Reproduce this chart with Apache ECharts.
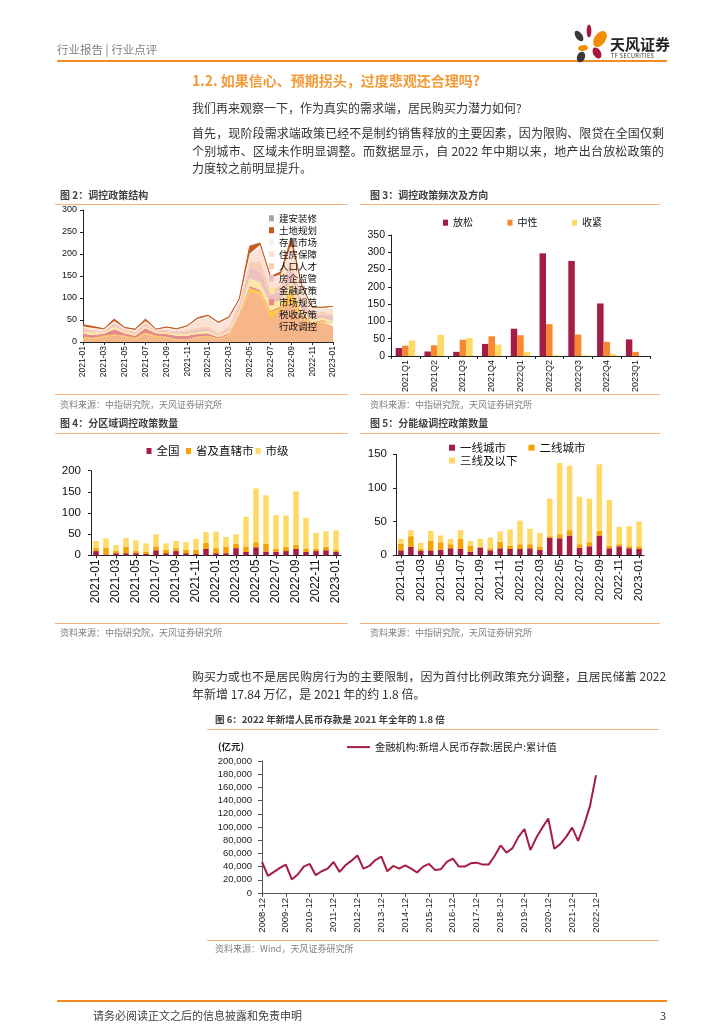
<!DOCTYPE html>
<html><head><meta charset="utf-8">
<script src="https://cdn.jsdelivr.net/npm/echarts@6/dist/echarts.min.js"></script>
<style>
html,body{margin:0;padding:0;background:#fff;}
body{width:724px;height:1024px;position:relative;overflow:hidden;font-family:"Noto Sans CJK SC","Liberation Sans",sans-serif;}
.t{position:absolute;white-space:nowrap;line-height:1;color:#333;}
.j{position:absolute;line-height:1;color:#333;font-size:12px;text-align:justify;text-align-last:justify;}
.hl{position:absolute;height:0;border-top:1px solid #F5B27C;}
.ct{position:absolute;white-space:nowrap;line-height:1;color:#404040;font-weight:bold;font-size:10px;}
.src{position:absolute;white-space:nowrap;line-height:1;color:#7f7f7f;font-size:9px;}
#c{position:absolute;left:0;top:0;width:724px;height:1024px;}
</style></head>
<body>
<div id="c"></div>
<!-- header -->
<div class="t" style="left:57px;top:44px;font-size:11.5px;color:#808080;">行业报告 | 行业点评</div>
<div style="position:absolute;left:57px;top:60px;width:610px;height:2px;background:#F08C21;"></div>
<svg style="position:absolute;left:570px;top:22px;" width="40" height="42" viewBox="0 0 40 42">
 <ellipse cx="19" cy="9" rx="2.4" ry="6.5" fill="#A5173B"/>
 <ellipse cx="30" cy="17" rx="5.5" ry="9" fill="#F28C00" transform="rotate(35 30 17)"/>
 <ellipse cx="9" cy="14" rx="3.3" ry="6" fill="#3A3A3A" transform="rotate(-35 9 14)"/>
 <ellipse cx="13" cy="26" rx="5" ry="2.8" fill="#F28C00" transform="rotate(-10 13 26)"/>
 <ellipse cx="27" cy="31" rx="3.8" ry="6" fill="#A5173B" transform="rotate(-30 27 31)"/>
 <ellipse cx="11" cy="35" rx="4" ry="5.5" fill="#3A3A3A" transform="rotate(20 11 35)"/>
</svg>
<div class="t" style="left:610px;top:36px;font-size:15px;font-weight:bold;color:#222;">天风证券</div>
<div class="t" style="left:611px;top:54px;font-size:5.5px;color:#333;letter-spacing:0.4px;">TF SECURITIES</div>

<!-- text -->
<div class="t" style="left:192px;top:73px;font-size:14px;font-weight:bold;color:#F39A38;">1.2. 如果信心、预期拐头，过度悲观还合理吗?</div>
<div class="t" style="left:192px;top:102px;font-size:12px;">我们再来观察一下，作为真实的需求端，居民购买力潜力如何?</div>
<div class="j" style="left:192px;top:127px;width:472px;">首先，现阶段需求端政策已经不是制约销售释放的主要因素，因为限购、限贷在全国仅剩</div>
<div class="j" style="left:192px;top:145px;width:472px;">个别城市、区域未作明显调整。而数据显示，自 2022 年中期以来，地产出台放松政策的</div>
<div class="t" style="left:192px;top:162px;font-size:12px;">力度较之前明显提升。</div>

<div class="j" style="left:192px;top:670px;width:474px;font-size:11.9px;">购买力或也不是居民购房行为的主要限制，因为首付比例政策充分调整，且居民储蓄 2022</div>
<div class="t" style="left:192px;top:688px;font-size:12px;">年新增 17.84 万亿，是 2021 年的约 1.8 倍。</div>

<!-- chart frames -->
<div class="ct" style="left:60px;top:190px;">图 2：调控政策结构</div>
<div class="ct" style="left:370px;top:190px;">图 3：调控政策频次及方向</div>
<div class="hl" style="left:55px;top:204px;width:293px;"></div>
<div class="hl" style="left:360px;top:204px;width:300px;"></div>
<div class="hl" style="left:55px;top:394px;width:293px;"></div>
<div class="hl" style="left:360px;top:394px;width:300px;"></div>
<div class="src" style="left:60px;top:400px;">资料来源：中指研究院，天风证券研究所</div>
<div class="src" style="left:370px;top:400px;">资料来源：中指研究院，天风证券研究所</div>

<div class="ct" style="left:60px;top:418px;">图 4：分区域调控政策数量</div>
<div class="ct" style="left:370px;top:418px;">图 5：分能级调控政策数量</div>
<div class="hl" style="left:55px;top:433px;width:293px;"></div>
<div class="hl" style="left:360px;top:433px;width:300px;"></div>
<div class="hl" style="left:55px;top:623px;width:293px;"></div>
<div class="hl" style="left:360px;top:623px;width:300px;"></div>
<div class="src" style="left:60px;top:628px;">资料来源：中指研究院，天风证券研究所</div>
<div class="src" style="left:370px;top:628px;">资料来源：中指研究院，天风证券研究所</div>

<div class="ct" style="left:215px;top:715px;font-size:9.5px;">图 6：2022 年新增人民币存款是 2021 年全年的 1.8 倍</div>
<div class="hl" style="left:207px;top:729px;width:452px;"></div>
<div class="t" style="left:218px;top:742px;font-size:9.5px;font-weight:bold;color:#222;">(亿元)</div>
<div class="hl" style="left:207px;top:940px;width:452px;"></div>
<div class="src" style="left:215px;top:944px;">资料来源：Wind，天风证券研究所</div>

<!-- footer -->
<div style="position:absolute;left:57px;top:1000px;width:610px;height:2px;background:#F08C21;"></div>
<div class="t" style="left:93px;top:1010px;font-size:11px;color:#404040;">请务必阅读正文之后的信息披露和免责申明</div>
<div class="t" style="left:660px;top:1010px;font-size:11px;color:#404040;">3</div>

<script>
// ===== Categories =====
const months = ['2021-01','2021-02','2021-03','2021-04','2021-05','2021-06','2021-07','2021-08','2021-09','2021-10','2021-11','2021-12','2022-01','2022-02','2022-03','2022-04','2022-05','2022-06','2022-07','2022-08','2022-09','2022-10','2022-11','2022-12','2023-01'];
const quarters = ['2021Q1','2021Q2','2021Q3','2021Q4','2022Q1','2022Q2','2022Q3','2022Q4','2023Q1'];
const depositDates = ['2008-12'];
for (let y = 2009; y <= 2022; y++) { ['03','06','09','12'].forEach(m => depositDates.push(y + '-' + m)); }

// ===== Fig 2: policy structure (stacked area) =====
const xingzheng = [10,7,12,15,12,7,18,12,10,5,5,10,12,7,15,60,115,108,58,72,92,55,40,45,36];
const shuishou  = [2,2,2,2,2,2,3,2,2,1,1,2,2,1,2,3,8,6,10,6,25,3,3,3,3];
const shichang  = [7,7,5,12,6,5,10,6,6,8,8,6,6,3,3,3,4,4,3,3,5,3,2,2,2];
const jinrong   = [5,5,3,6,4,4,5,3,4,5,5,5,5,3,5,8,18,18,16,15,20,12,6,5,6];
const fangqi    = [4,3,2,5,3,3,4,2,3,3,4,5,5,3,5,8,22,26,20,20,25,15,9,8,9];
const renkou    = [3,3,2,3,2,3,3,1,3,3,4,5,6,4,6,7,15,22,12,13,20,12,6,6,7];
const zhufang   = [3,3,2,3,2,2,3,2,3,2,7,17,20,20,16,4,14,32,23,21,31,23,9,6,14];
const cunliang  = [2,2,1,2,1,2,2,1,2,2,2,3,3,2,3,3,5,5,4,4,5,4,3,3,3];
const tudi      = [3,3,1,4,1,1,4,0,1,1,1,2,2,2,2,2,16,3,3,5,14,2,1,1,1];
const jianan    = [1,1,0,1,1,1,1,1,1,1,1,1,1,1,1,1,3,2,1,1,2,1,1,1,1];

// ===== Fig 3: frequency & direction =====
const fangsong  = [23,13,12,35,79,297,275,152,48];
const zhongxing = [30,31,47,57,60,92,62,41,12];
const shoujin   = [45,61,52,33,12,2,2,6,0];

// ===== Fig 4: by region =====
const quanguo = [10,2,5,5,5,3,12,5,10,5,3,15,5,5,17,8,19,9,8,10,15,8,10,12,8];
const shengji = [7,16,5,15,5,5,9,8,7,8,10,15,12,15,10,13,12,18,7,10,10,7,5,8,5];
const shiji   = [17,22,14,21,25,20,29,15,17,18,26,25,39,23,23,70,127,115,80,74,126,74,38,37,46];

// ===== Fig 5: by city tier =====
const yixian  = [7,12,6,7,8,10,9,5,11,7,10,9,9,10,8,26,25,29,11,13,29,10,13,10,9];
const erxian  = [10,16,3,14,11,6,15,9,1,3,10,5,7,6,4,2,6,8,5,6,7,4,3,3,4];
const sanxian = [7,9,9,15,10,8,13,7,12,16,15,24,35,23,21,56,106,96,71,65,99,68,26,30,37];

// ===== Fig 6: household new RMB deposits, cumulative (亿元) =====
const deposits = [47000,
 26000,32000,38000,43000, 20500,28000,40000,44000, 27000,33000,37000,47000,
 32000,42000,49000,57000, 37000,41000,50000,55000, 33000,41000,37000,42000,
 37000,31000,40000,44000, 35000,36000,47000,52000, 40000,40000,45000,46000,
 43000,43000,56000,72000, 61000,68000,85000,97000, 65000,84000,99000,113000,
 67000,74000,85000,99000, 79000,103000,132000,178400];

const areaDefs = [
  ['行政调控', xingzheng, '#F7B58A'],
  ['税收政策', shuishou, '#FFC83D'],
  ['市场规范', shichang, '#E48A8C'],
  ['金融政策', jinrong, '#FCE6A4'],
  ['房企监管', fangqi, '#EBC0BF'],
  ['人口人才', renkou, '#F9CDB3'],
  ['住房保障', zhufang, '#FCE2D4'],
  ['存量市场', cunliang, '#F3F1F0'],
  ['土地规划', tudi, '#C9581A'],
  ['建安装修', jianan, '#A6A6A6']
];

const FN = 'Liberation Sans';
const CJK = 'Noto Sans CJK SC';
function yAx(gi, max, interval, fs, margin, extra) {
  return Object.assign({
    gridIndex: gi, type: 'value', min: 0, max: max, interval: interval,
    axisLine: {show: true, lineStyle: {color: '#222', width: 1}},
    axisTick: {show: true, length: 3, lineStyle: {color: '#222'}},
    splitLine: {show: false},
    axisLabel: {fontSize: fs, color: '#111', fontFamily: FN, margin: margin}
  }, extra || {});
}
function xAx(gi, data, fs, opts) {
  return Object.assign({
    gridIndex: gi, type: 'category', data: data,
    axisLine: {show: true, lineStyle: {color: '#222', width: 1}},
    axisTick: {show: true, length: 3, lineStyle: {color: '#222'}},
    splitLine: {show: false},
    axisLabel: {fontSize: fs, color: '#111', fontFamily: FN, rotate: 90, margin: 4}
  }, opts || {});
}

const series = [];
areaDefs.forEach(d => {
  series.push({
    name: d[0], type: 'line', stack: 'policy', xAxisIndex: 0, yAxisIndex: 0,
    data: d[1], symbol: 'none', color: d[2],
    lineStyle: {width: d[0] === '土地规划' ? 1 : 0, color: d[2]},
    areaStyle: {color: d[2], opacity: 1},
    emphasis: {disabled: true}
  });
});
series.push({name: '放松', type: 'bar', xAxisIndex: 1, yAxisIndex: 1, data: fangsong, color: '#A51D42', barWidth: 6.5, barGap: '0%'});
series.push({name: '中性', type: 'bar', xAxisIndex: 1, yAxisIndex: 1, data: zhongxing, color: '#F7882F', barWidth: 6.5, barGap: '0%'});
series.push({name: '收紧', type: 'bar', xAxisIndex: 1, yAxisIndex: 1, data: shoujin, color: '#FFD966', barWidth: 6.5, barGap: '0%'});

series.push({name: '全国', type: 'bar', stack: 'r', xAxisIndex: 2, yAxisIndex: 2, data: quanguo, color: '#A51D42', barWidth: 5.5});
series.push({name: '省及直辖市', type: 'bar', stack: 'r', xAxisIndex: 2, yAxisIndex: 2, data: shengji, color: '#F5A300', barWidth: 5.5});
series.push({name: '市级', type: 'bar', stack: 'r', xAxisIndex: 2, yAxisIndex: 2, data: shiji, color: '#FFD966', barWidth: 5.5});

series.push({name: '一线城市', type: 'bar', stack: 't', xAxisIndex: 3, yAxisIndex: 3, data: yixian, color: '#A51D42', barWidth: 5.5});
series.push({name: '二线城市', type: 'bar', stack: 't', xAxisIndex: 3, yAxisIndex: 3, data: erxian, color: '#F5A300', barWidth: 5.5});
series.push({name: '三线及以下', type: 'bar', stack: 't', xAxisIndex: 3, yAxisIndex: 3, data: sanxian, color: '#FFD966', barWidth: 5.5});

series.push({name: '金融机构:新增人民币存款:居民户:累计值', type: 'line', xAxisIndex: 4, yAxisIndex: 4,
  data: deposits, symbol: 'none', color: '#A51D42', lineStyle: {width: 2, color: '#A51D42'}});

function leg(name, left, cy, fs, iw, ih) {
  return {data: [name], left: left, top: cy - fs / 2, icon: 'rect', itemWidth: iw || 5, itemHeight: ih || 6, padding: 0,
    textStyle: {fontSize: fs, color: '#111', fontFamily: CJK}, selectedMode: false};
}

const option = {
  animation: false,
  grid: [
    {left: 83, top: 210, width: 250, height: 132},
    {left: 391, top: 235, width: 259, height: 121},
    {left: 91, top: 470.7, width: 250, height: 84.6},
    {left: 396, top: 454.3, width: 248, height: 100.7},
    {left: 262, top: 761, width: 334, height: 132}
  ],
  xAxis: [
    xAx(0, months, 8.5, {boundaryGap: false, axisTick: {show: true, length: 3, interval: 1, lineStyle: {color: '#222'}},
      axisLabel: {fontSize: 8.5, color: '#111', fontFamily: FN, rotate: 90, margin: 4, interval: 1}}),
    xAx(1, quarters, 9, {boundaryGap: true}),
    xAx(2, months, 12, {boundaryGap: true, axisTick: {show: true, length: 3, interval: 1, alignWithLabel: true, lineStyle: {color: '#222'}},
      axisLabel: {fontSize: 12, color: '#111', fontFamily: FN, rotate: 90, margin: 4, interval: 1}}),
    xAx(3, months, 11.5, {boundaryGap: true, axisTick: {show: true, length: 3, interval: 1, alignWithLabel: true, lineStyle: {color: '#222'}},
      axisLabel: {fontSize: 11.5, color: '#111', fontFamily: FN, rotate: 90, margin: 4, interval: 1}}),
    xAx(4, depositDates, 9.5, {boundaryGap: false, axisLine: {show: true, lineStyle: {color: '#555', width: 1}},
      axisTick: {show: true, length: 4, interval: 3, lineStyle: {color: '#555'}},
      axisLabel: {fontSize: 9.5, color: '#222', fontFamily: FN, rotate: 90, margin: 5, interval: 3}})
  ],
  yAxis: [
    yAx(0, 300, 50, 9, 6),
    yAx(1, 350, 50, 10.5, 6),
    yAx(2, 200, 50, 11.5, 10),
    yAx(3, 150, 50, 11.5, 9),
    yAx(4, 200000, 20000, 9.5, 10, {
      axisLine: {show: true, lineStyle: {color: '#555', width: 1}},
      axisTick: {show: true, length: 4, lineStyle: {color: '#555'}},
      axisLabel: {fontSize: 9.5, color: '#222', fontFamily: FN, margin: 10,
        formatter: v => v.toLocaleString('en-US')}})
  ],
  legend: [
    {orient: 'vertical', left: 269, top: 213.5, icon: 'rect', itemWidth: 5, itemHeight: 6, itemGap: 2.5, padding: 0, selectedMode: false,
     textStyle: {fontSize: 9.5, color: '#111', fontFamily: CJK},
     data: ['建安装修','土地规划','存量市场','住房保障','人口人才','房企监管','金融政策','市场规范','税收政策','行政调控']},
    leg('放松', 443, 222.7, 10),
    leg('中性', 507.5, 222.7, 10),
    leg('收紧', 572, 222.7, 10),
    leg('全国', 146.5, 451, 11.5),
    leg('省及直辖市', 186, 451, 11.5),
    leg('市级', 255.5, 451, 11.5),
    leg('一线城市', 449, 447.7, 11.5, 6, 6),
    leg('二线城市', 528.5, 447.7, 11.5, 6, 6),
    leg('三线及以下', 449, 460.5, 11.5, 6, 6),
    {data: ['金融机构:新增人民币存款:居民户:累计值'], left: 347, top: 742, icon: 'rect', itemWidth: 23, itemHeight: 2,
     padding: 0, selectedMode: false, textStyle: {fontSize: 10.2, color: '#222', fontFamily: CJK}}
  ],
  series: series
};

const chart = echarts.init(document.getElementById('c'), null, {renderer: 'canvas'});
chart.setOption(option);
</script>
</body></html>
